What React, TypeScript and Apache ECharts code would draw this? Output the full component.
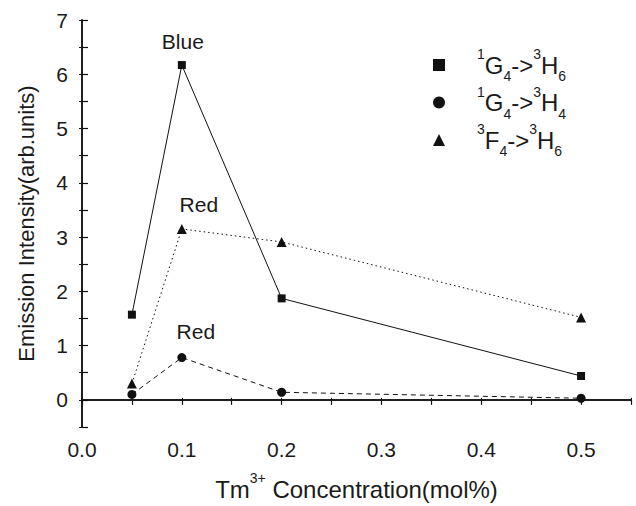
import React, { useEffect, useRef } from "react";
import * as echarts from "echarts";

const xValues = [0.05, 0.1, 0.2, 0.5];
const seriesNames = ["1G4->3H6", "1G4->3H4", "3F4->3H6"];
const g4h6 = [1.57, 6.17, 1.87, 0.44];
const g4h4 = [0.1, 0.78, 0.14, 0.03];
const f4h6 = [0.3, 3.15, 2.91, 1.52];
const xTickLabels = ["0.0", "0.1", "0.2", "0.3", "0.4", "0.5"];
const yTickLabels = ["0", "1", "2", "3", "4", "5", "6", "7"];
const annotations = [
  { series: 0, index: 1, text: "Blue" },
  { series: 2, index: 1, text: "Red" },
  { series: 1, index: 1, text: "Red" },
];

const richFor = (name: string) => {
  const a = name[0], b = name[1], c = name[2], d = name[5], e = name[6], f = name[7];
  return `{sup|${a}}{m|${b}}{sub|${c}}{m|->}{sup|${d}}{m|${e}}{sub|${f}}`;
};

const FONT = "'Liberation Sans', Arial, Helvetica, sans-serif";
const TXT = "#1a1a1a";

export default function App() {
  const ref = useRef<HTMLDivElement>(null);
  useEffect(() => {
    if (!ref.current) return;
    const chart = echarts.init(ref.current, undefined, { renderer: "svg" });
    const allY = [g4h6, g4h4, f4h6];
    const symbols = ["rect", "circle", "triangle"];
    const symbolSizes = [8, 9, 10];
    const dashes: any[] = ["solid", [5, 4], [1.5, 3]];
    const offsets: Record<string, number[]> = {
      "0-1": [1, -4],
      "2-1": [17, -4],
      "1-1": [14, -6],
    };
    const series = seriesNames.map((name, si) => ({
      name,
      type: "line",
      symbol: symbols[si],
      symbolSize: symbolSizes[si],
      showSymbol: true,
      lineStyle: { color: "#111", width: 1, type: dashes[si] },
      itemStyle: { color: "#111" },
      data: xValues.map((x, i) => {
        const ann = annotations.find((a) => a.series === si && a.index === i);
        const item: any = { value: [x, allY[si][i]] };
        if (ann) {
          item.label = {
            show: true,
            formatter: ann.text,
            position: "top",
            offset: offsets[`${si}-${i}`],
            fontSize: 21,
            fontFamily: FONT,
            color: TXT,
          };
        }
        return item;
      }),
    }));

    const rich = {
      m: { fontSize: 24, fontFamily: FONT, color: TXT, lineHeight: 36 },
      sup: { fontSize: 14, fontFamily: FONT, color: TXT, verticalAlign: "top", lineHeight: 14 },
      sub: { fontSize: 14, fontFamily: FONT, color: TXT, verticalAlign: "bottom", lineHeight: 14 },
    };

    chart.setOption({
      animation: false,
      grid: { left: 82, top: 20, right: 5, bottom: 79, containLabel: false },
      legend: {
        orient: "vertical",
        left: 433,
        top: 47,
        padding: 0,
        itemGap: 1.5,
        itemWidth: 12,
        itemHeight: 12,
        data: [
          { name: seriesNames[0], icon: "rect", itemStyle: { color: "#111" } },
          { name: seriesNames[1], icon: "circle", itemStyle: { color: "#111" } },
          { name: seriesNames[2], icon: "triangle", itemStyle: { color: "#111" } },
        ],
        formatter: (name: string) => richFor(name),
        textStyle: { padding: [0, 0, 0, 27], rich },
      },
      xAxis: [
        {
          type: "value",
          min: 0,
          max: 0.55,
          interval: 0.05,
          name: "{m|Tm}{sup|3+}{m| Concentration(mol%)}",
          nameLocation: "middle",
          nameGap: 44,
          nameTextStyle: { rich },
          axisLine: { show: true, lineStyle: { color: "#111", width: 1.5 } },
          axisTick: { show: true, inside: false, length: 5, lineStyle: { color: "#111", width: 1.2 } },
          splitLine: { show: false },
          axisLabel: {
            margin: 12,
            fontSize: 21,
            fontFamily: FONT,
            color: TXT,
            formatter: (v: number) => {
              const k = Math.round(v * 100);
              if (k % 10 !== 0) return "";
              return xTickLabels[k / 10] ?? "";
            },
          },
        },
        {
          type: "value",
          position: "top",
          min: 0,
          max: 0.55,
          interval: 0.05,
          axisLine: { show: true, lineStyle: { color: "#111", width: 1.5 } },
          axisTick: { show: true, inside: false, length: 2, lineStyle: { color: "#111" } },
          axisLabel: { show: false },
          splitLine: { show: false },
        },
      ],
      yAxis: [
        {
          type: "value",
          min: -0.5,
          max: 7,
          interval: 0.5,
          name: "Emission Intensity(arb.units)",
          nameLocation: "middle",
          nameGap: 45,
          nameTextStyle: { fontSize: 22, fontFamily: FONT, color: TXT },
          axisLine: { show: true, lineStyle: { color: "#111", width: 1.5 } },
          axisTick: { show: true, inside: true, length: 6, lineStyle: { color: "#111", width: 1.2 } },
          splitLine: { show: false },
          axisLabel: {
            margin: 14,
            fontSize: 21,
            fontFamily: FONT,
            color: TXT,
            formatter: (v: number) => {
              if (Math.abs(v - Math.round(v)) > 1e-6 || v < 0) return "";
              return yTickLabels[Math.round(v)] ?? "";
            },
          },
        },
        {
          type: "value",
          position: "right",
          min: -0.5,
          max: 7,
          interval: 0.5,
          axisLine: { show: true, lineStyle: { color: "#111", width: 1.5 } },
          axisTick: { show: true, inside: true, length: 3, lineStyle: { color: "#111" } },
          axisLabel: { show: false },
          splitLine: { show: false },
        },
      ],
      series,
    });
    return () => chart.dispose();
  }, []);
  return (
    <div
      ref={ref}
      style={{ position: "fixed", left: 0, top: 0, width: 636, height: 506, background: "#fff" }}
    />
  );
}
